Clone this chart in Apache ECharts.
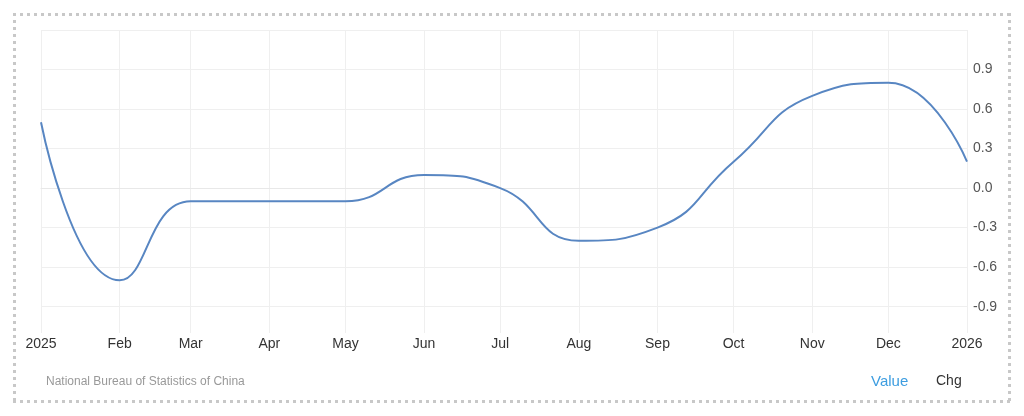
<!DOCTYPE html>
<html><head><meta charset="utf-8">
<script src="https://cdn.jsdelivr.net/npm/echarts@6/dist/echarts.min.js"></script>
<style>
html,body{margin:0;padding:0;background:#fff;width:1024px;height:416px;overflow:hidden;}
#frame{position:absolute;left:13px;top:13px;width:998px;height:390px;
background:
 repeating-linear-gradient(90deg,#c8c8c8 0 3px,transparent 3px 7px) top left/100% 3px no-repeat,
 repeating-linear-gradient(90deg,#c8c8c8 0 3px,transparent 3px 7px) bottom left/100% 3px no-repeat,
 repeating-linear-gradient(180deg,#c8c8c8 0 3px,transparent 3px 7px) top left/3px 100% no-repeat,
 repeating-linear-gradient(180deg,#c8c8c8 0 3px,transparent 3px 7px) top right/3px 100% no-repeat;}
#chart{position:absolute;left:0;top:0;width:1024px;height:416px;}
</style></head><body>
<div id="frame"></div>
<div id="chart"></div>
<script>
const dates = ['2025-01-01','2025-02-01','2025-03-01','2025-04-01','2025-05-01','2025-06-01','2025-07-01','2025-08-01','2025-09-01','2025-10-01','2025-11-01','2025-12-01','2026-01-01'];
const values = [0.5,-0.7,-0.1,-0.1,-0.1,0.1,0.0,-0.4,-0.3,0.2,0.7,0.8,0.2];
const monthLabels = ['2025','Feb','Mar','Apr','May','Jun','Jul','Aug','Sep','Oct','Nov','Dec','2026'];
const yLabelValues = [-0.9,-0.6,-0.3,0,0.3,0.6,0.9];
const yTickValues = [-0.9,-0.6,-0.3,0,0.3,0.6,0.9,1.2];
const sourceText = 'National Bureau of Statistics of China';

const ts = dates.map(d => new Date(d + 'T00:00:00').getTime());
const labelMap = {};
ts.forEach((t,i) => labelMap[t] = monthLabels[i]);

const chart = echarts.init(document.getElementById('chart'), null, {renderer:'canvas'});
chart.setOption({
  animation:false,
  backgroundColor:'transparent',
  textStyle:{fontFamily:'Liberation Sans, Arial, sans-serif'},
  grid:{left:41,right:57,top:30,bottom:83,containLabel:false},
  xAxis:{
    type:'value',
    min:ts[0], max:ts[ts.length-1],
    axisLine:{show:true,lineStyle:{color:'#e8e8e8',width:1}},
    axisTick:{show:false,customValues:ts},
    axisLabel:{customValues:ts,formatter:v=>labelMap[v]!==undefined?labelMap[v]:'',color:'#333',fontSize:14,margin:4,hideOverlap:false,showMinLabel:true,showMaxLabel:true},
    splitLine:{show:true,lineStyle:{color:'#efefef',width:1}}
  },
  yAxis:{
    type:'value',position:'right',
    min:-1.1,max:1.2,
    axisLine:{show:false},
    axisTick:{show:false,customValues:yTickValues},
    axisLabel:{customValues:yLabelValues,formatter:v=>v.toFixed(1),color:'#555',fontSize:14,margin:6},
    splitLine:{show:true,lineStyle:{color:'#efefef',width:1}}
  },
  title:{text:sourceText,left:41,top:371,textStyle:{fontSize:12,fontWeight:'normal',color:'#999',fontFamily:'Liberation Sans, Arial, sans-serif'}},
  graphic:[
    {type:'text',left:871,top:374,style:{text:'Value',fill:'#3d9de0',font:'15px Liberation Sans, Arial, sans-serif'}},
    {type:'text',left:936,top:374,style:{text:'Chg',fill:'#333',font:'14px Liberation Sans, Arial, sans-serif'}}
  ],
  series:[{
    type:'line',
    data:ts.map((t,i)=>[t,values[i]]),
    smooth:0.5,
    showSymbol:false,
    lineStyle:{color:'#5886c2',width:2},
    itemStyle:{color:'#5886c2'}
  }]
});
</script>
</body></html>
